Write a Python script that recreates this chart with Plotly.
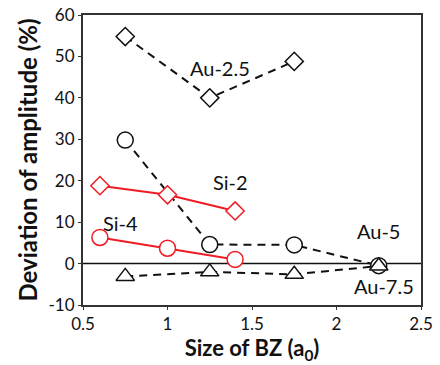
import plotly.graph_objects as go

au25_x = [0.75, 1.25, 1.75]
au25_y = [54.8, 40.0, 48.8]
au5_x = [0.75, 1.25, 1.75, 2.25]
au5_y = [29.8, 4.6, 4.5, -0.5]
au75_x = [0.75, 1.25, 1.75, 2.25]
au75_y = [-3.1, -2.0, -2.6, -0.6]
si2_x = [0.6, 1.0, 1.4]
si2_y = [18.8, 16.6, 12.7]
si4_x = [0.6, 1.0, 1.4]
si4_y = [6.3, 3.7, 1.0]

y_ticks = [-10, 0, 10, 20, 30, 40, 50, 60]
y_ticktext = ["-10", "0", "10", "20", "30", "40", "50", "60"]
x_ticks = [0.5, 1, 1.5, 2, 2.5]
x_ticktext = ["0.5", "1", "1.5", "2", "2.5"]

labels = [("Au-2.5", 1.31, 47.2), ("Si-2", 1.37, 19.6), ("Si-4", 0.72, 9.8),
          ("Au-5", 2.25, 7.8), ("Au-7.5", 2.28, -5.3)]

FONT = "Lato"
fig = go.Figure()

def add(x, y, sym, color, dash, size):
    fig.add_trace(go.Scatter(
        x=x, y=y, mode="lines+markers",
        line=dict(color=color, width=2, dash=dash),
        marker=dict(symbol=sym, size=size, color="white",
                    line=dict(color=color, width=1.5)),
        showlegend=False))

add(au25_x, au25_y, "diamond", "#111111", "8px,6px", 14)
add(au5_x, au5_y, "circle", "#111111", "8px,6px", 16)
add(au75_x, au75_y, "triangle-up", "#111111", "8px,6px", 16)
add(si2_x, si2_y, "diamond", "#ee1c24", "solid", 14)
add(si4_x, si4_y, "circle", "#ee1c24", "solid", 16)

for t, x, y in labels:
    fig.add_annotation(x=x, y=y, text=t, showarrow=False,
                       font=dict(family=FONT, size=20, color="#111111"))

fig.add_shape(type="line", xref="x", yref="y", x0=0.5, x1=2.5, y0=0, y1=0,
              line=dict(color="#111111", width=1.5), layer="below")

fig.update_layout(
    width=440, height=365,
    margin=dict(l=83, r=19, t=15, b=60),
    plot_bgcolor="white", paper_bgcolor="white",
    font=dict(family=FONT, size=17, color="#111111"),
    xaxis=dict(range=[0.5, 2.5], tickvals=x_ticks, ticktext=x_ticktext,
               automargin=False,
               showgrid=False, zeroline=False, showline=True, mirror=True,
               linecolor="#333333", linewidth=2, ticks="outside", ticklen=3,
               tickcolor="#333333", tickfont=dict(size=17),
               title=dict(text="<b>Size of BZ (a<sub>0</sub>)</b>", standoff=2,
                          font=dict(size=22))),
    yaxis=dict(range=[-10, 60], tickvals=y_ticks, ticktext=y_ticktext,
               automargin=False,
               showgrid=False, zeroline=False, showline=True, mirror=True,
               linecolor="#333333", linewidth=2, ticks="outside", ticklen=3,
               tickcolor="#333333", tickfont=dict(size=17),
               title=dict(text="<b>Deviation of amplitude (%)</b>", standoff=4,
                          font=dict(size=24))),
)

fig.write_html("out.html")
